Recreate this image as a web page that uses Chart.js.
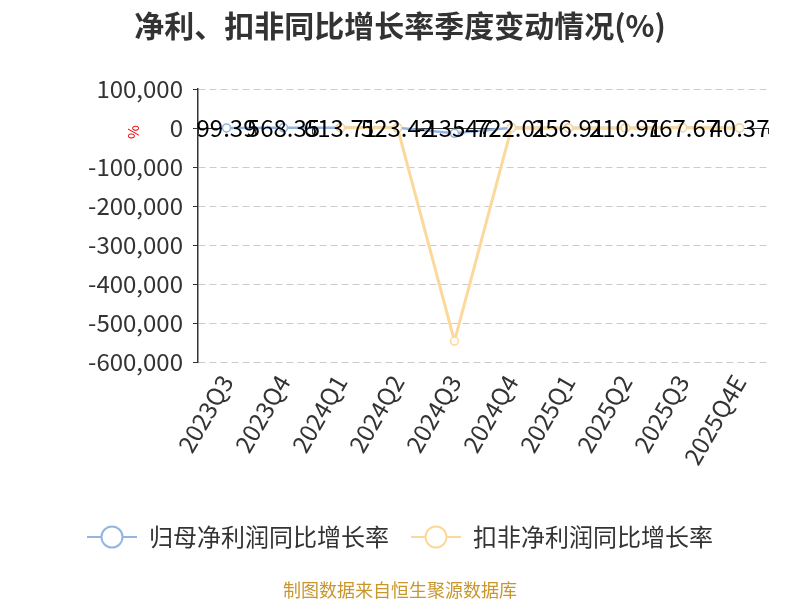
<!DOCTYPE html>
<html>
<head>
<meta charset="utf-8">
<script src="https://cdn.jsdelivr.net/npm/chart.js@4"></script>
<style>
  body { margin: 0; background: #fff; }
  #wrap { position: relative; width: 800px; height: 600px; }
  #title { position: absolute; left: 0; top: 2px; width: 800px; text-align: center;
           font: bold 30px "Noto Sans CJK SC", sans-serif; color: #333; }
  #src { position: absolute; left: 0; top: 576px; width: 800px; text-align: center;
         font: 18px "Noto Sans CJK SC", sans-serif; color: #c9962c; }
</style>
</head>
<body>
<div id="wrap">
  <canvas id="myChart" width="800" height="600"></canvas>
  <div id="title">净利、扣非同比增长率季度变动情况(%)</div>
  <div id="src">制图数据来自恒生聚源数据库</div>
</div>
<script>
var quarters = ['2023Q3', '2023Q4', '2024Q1', '2024Q2', '2024Q3', '2024Q4', '2025Q1', '2025Q2', '2025Q3', '2025Q4E'];
var parentGrowth = [99.39, 568.35, 613.71, 523.42, -13547, 722.01, 256.91, 210.91, 767.67, 40.37];
var deductedGrowth = [null, null, 580.2, 410.5, -546472, 690.3, 230.1, 190.4, 700.2, 35.1];
var yTicks = [100000, 0, -100000, -200000, -300000, -400000, -500000, -600000];

var FONT = '"Noto Sans CJK SC", "Noto Sans", sans-serif';
var BLUE = '#93b5e3';
var ORANGE = '#fdd89b';

function legendIcon(color) {
  var c = document.createElement('canvas');
  c.width = 50; c.height = 26;
  var g = c.getContext('2d');
  g.strokeStyle = color; g.lineWidth = 2;
  g.beginPath(); g.moveTo(0, 13); g.lineTo(50, 13); g.stroke();
  g.fillStyle = '#fff';
  g.beginPath(); g.arc(25, 13, 10.5, 0, Math.PI * 2); g.fill(); g.stroke();
  return c;
}

function fmt(v) {
  return Math.abs(v) >= 10000 ? v.toFixed(0) : v.toFixed(2);
}

var extras = {
  id: 'extras',
  afterDatasetsDraw: function(chart) {
    var ctx = chart.ctx;
    var meta = chart.getDatasetMeta(0);
    var zero = chart.scales.y.getPixelForValue(0);
    ctx.save();
    ctx.font = '24px ' + FONT;
    ctx.fillStyle = '#000';
    ctx.textAlign = 'center';
    ctx.textBaseline = 'middle';
    meta.data.forEach(function(pt, i) {
      ctx.fillText(fmt(parentGrowth[i]), pt.x, Math.min(pt.y, zero));
    });
    // unit label
    ctx.translate(133, zero + 4);
    ctx.rotate(-Math.PI / 2);
    ctx.fillStyle = '#e00';
    ctx.font = '15px ' + FONT;
    ctx.fillText('%', 0, 0);
    ctx.restore();
  }
};

var ctx = document.getElementById('myChart').getContext('2d');
new Chart(ctx, {
  type: 'line',
  data: {
    labels: quarters,
    datasets: [{
      label: '归母净利润同比增长率',
      data: parentGrowth,
      borderColor: BLUE,
      backgroundColor: '#fff',
      borderWidth: 2.5,
      pointRadius: 4,
      pointBorderWidth: 1.5,
      pointStyle: 'circle',
      order: 2
    }, {
      label: '扣非净利润同比增长率',
      data: deductedGrowth,
      borderColor: ORANGE,
      backgroundColor: '#fff',
      borderWidth: 3,
      pointRadius: 4,
      pointBorderWidth: 1.5,
      pointStyle: 'circle',
      order: 1
    }]
  },
  options: {
    responsive: false,
    animation: false,
    layout: { padding: { left: 16, right: 16, top: 89, bottom: 41 } },
    plugins: {
      title: { display: false },
      legend: {
        position: 'bottom',
        labels: {
          usePointStyle: true,
          pointStyleWidth: 50,
          padding: 22,
          color: '#333',
          font: { family: FONT, size: 24 },
          generateLabels: function(chart) {
            return chart.data.datasets.map(function(ds, i) {
              return { text: ds.label, pointStyle: legendIcon(ds.borderColor), datasetIndex: i,
                       fontColor: '#333', lineWidth: 0, strokeStyle: 'transparent', fillStyle: 'transparent' };
            });
          }
        }
      },
      tooltip: { enabled: false }
    },
    scales: {
      x: {
        offset: true,
        grid: { display: false },
        border: { display: false },
        ticks: { color: '#333', font: { family: FONT, size: 24 }, maxRotation: 60, minRotation: 60, padding: 0, autoSkip: false },
        afterFit: function(s) { s.height = 141; }
      },
      x2: {
        type: 'category',
        labels: quarters,
        offset: true,
        position: { y: 0 },
        grid: { offset: true, drawOnChartArea: false, tickLength: 5, color: '#333', lineWidth: 1 },
        border: { color: '#333', width: 1 },
        ticks: { display: false }
      },
      y: {
        min: -600000,
        max: 100000,
        afterBuildTicks: function(s) { s.ticks = yTicks.map(function(v) { return { value: v }; }); },
        grid: { color: '#ccc', tickLength: 5, tickColor: '#333', tickBorderDash: [] },
        border: { color: '#333', width: 1.5, dash: [7, 4] },
        ticks: { color: '#333', font: { family: FONT, size: 24 }, padding: 10,
                 callback: function(v) { return v.toLocaleString('en-US'); } },
        afterFit: function(s) { s.width = 182; }
      },
      yPad: {
        position: 'right',
        grid: { display: false },
        border: { display: false },
        ticks: { display: false },
        afterFit: function(s) { s.width = 16; }
      }
    }
  },
  plugins: [extras]
});
</script>
</body>
</html>
